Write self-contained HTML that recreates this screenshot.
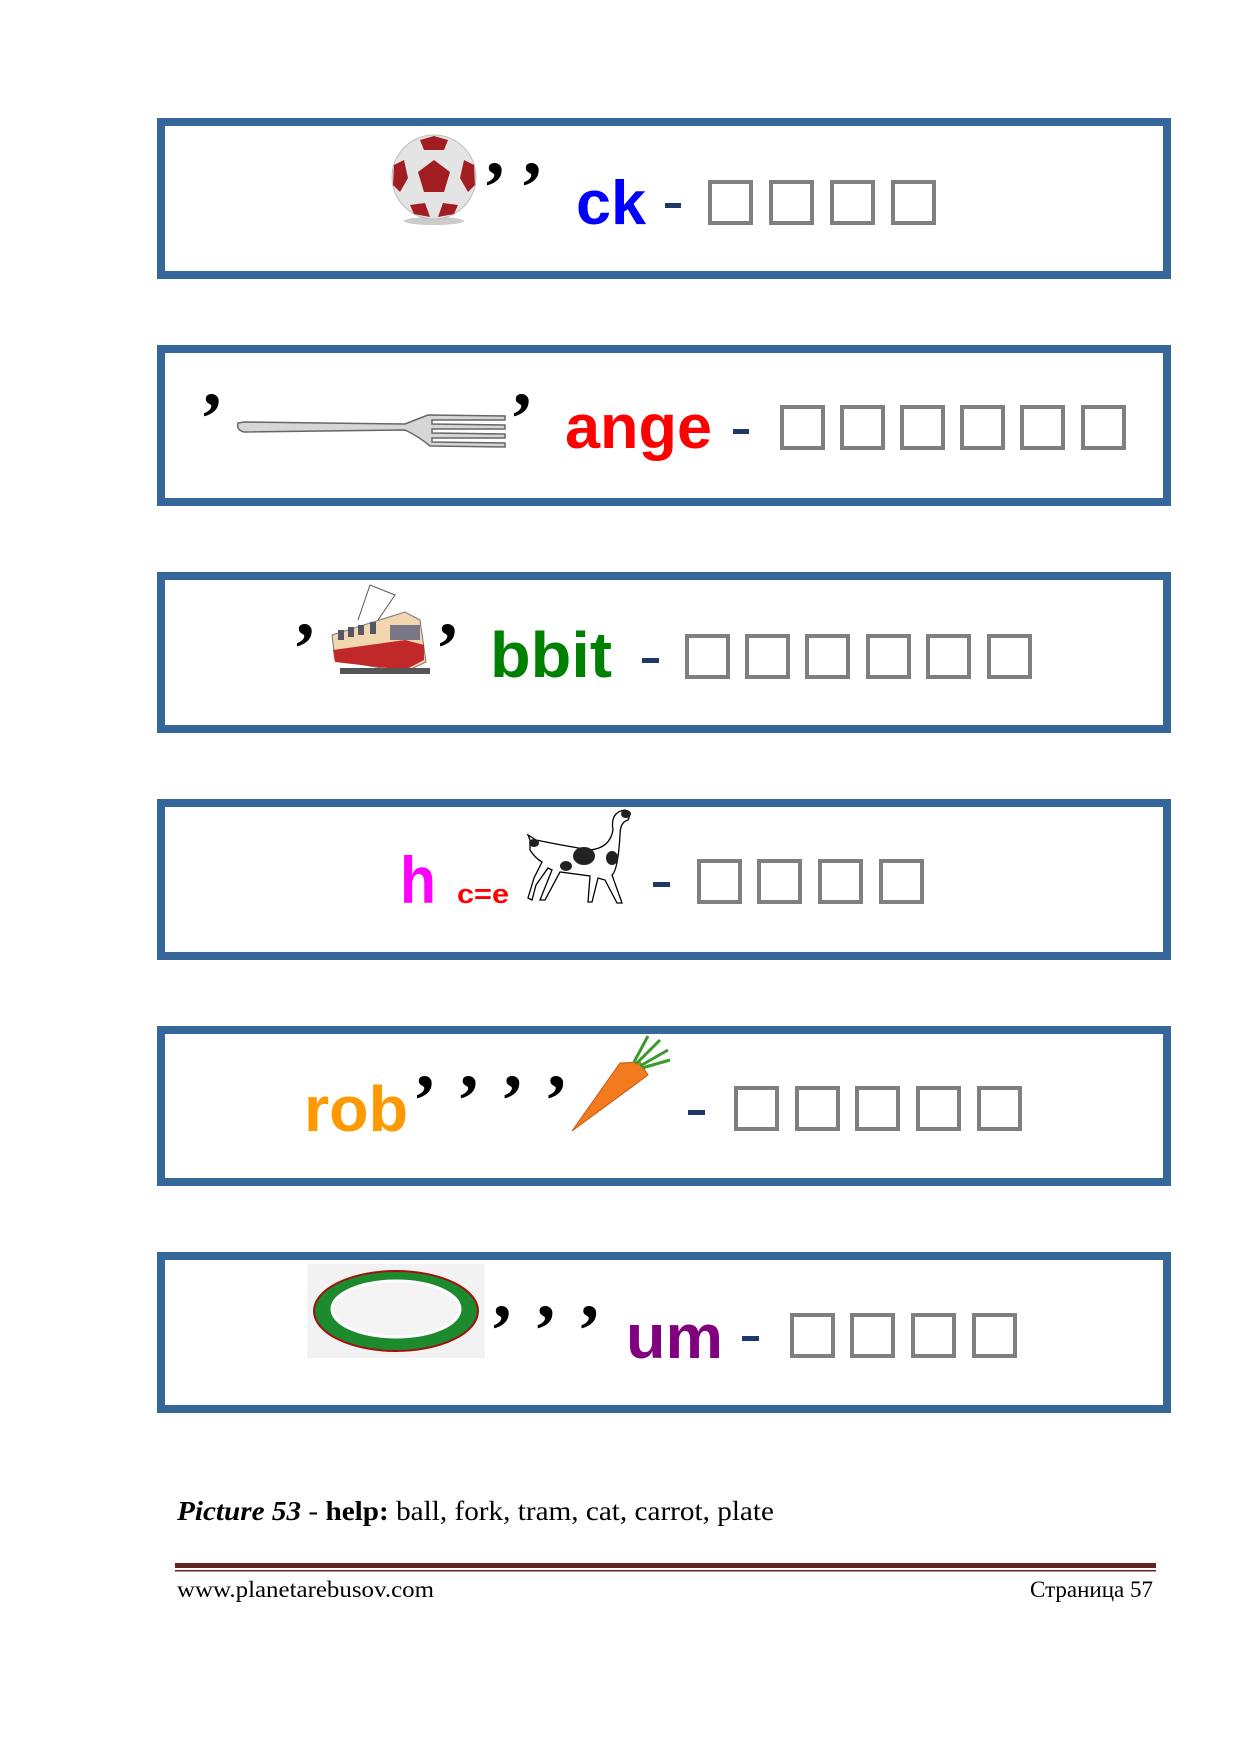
<!DOCTYPE html>
<html><head><meta charset="utf-8"><style>html,body{margin:0;padding:0;background:#fff}svg{display:block}</style></head>
<body>
<svg width="1240" height="1754" viewBox="0 0 1240 1754" xmlns="http://www.w3.org/2000/svg">
<defs>
<g id="sq"><rect x="2" y="2" width="41" height="41" fill="none" stroke="#7f7f7f" stroke-width="4"/></g>
</defs>
<g fill="none" stroke="#36679a" stroke-width="8">
<rect x="161" y="122" width="1006" height="153"/>
<rect x="161" y="349" width="1006" height="153"/>
<rect x="161" y="576" width="1006" height="153"/>
<rect x="161" y="803" width="1006" height="153"/>
<rect x="161" y="1030" width="1006" height="152"/>
<rect x="161" y="1256" width="1006" height="153"/>
</g>
<g font-family="Liberation Sans, sans-serif" font-weight="bold">
<!-- Box1 -->
<ellipse cx="434" cy="221" rx="30" ry="4" fill="#ccc"/>
<circle cx="434" cy="177" r="42" fill="#e4e4e4" stroke="#bbb"/>
<polygon points="434,160 450,172 444,192 424,192 418,172" fill="#a11d22"/>
<polygon points="434,136 448,140 444,150 424,150 420,140" fill="#a11d22"/>
<polygon points="394,165 404,160 408,178 400,192 393,185" fill="#a11d22"/>
<polygon points="474,165 464,160 460,178 468,192 475,185" fill="#a11d22"/>
<polygon points="410,205 425,203 430,217 414,214" fill="#a11d22"/>
<polygon points="458,205 443,203 438,217 454,214" fill="#a11d22"/>
<text x="486" y="174" font-family="Liberation Serif, serif" font-size="74" fill="#000">, ,</text>
<text x="576" y="224" font-size="62" fill="#0000ff" textLength="70" lengthAdjust="spacingAndGlyphs">ck</text>
<rect x="665" y="203" width="16" height="5" fill="#1f3864"/>
<use href="#sq" x="708" y="180"/><use href="#sq" x="769" y="180"/><use href="#sq" x="830" y="180"/><use href="#sq" x="891" y="180"/>
<!-- Box2 -->
<text x="203" y="405" font-family="Liberation Serif, serif" font-size="74" fill="#000">,</text>
<path d="M238,423 Q236,430 244,432 L405,430 Q418,436 430,446 L505,447 L505,443 L432,442 L432,438 L505,438 L505,434 L432,433 L432,429 L505,429 L505,425 L432,424 L432,420 L505,420 L505,416 L428,415 Q415,420 405,424 L244,422 Z" fill="#d6d6d6" stroke="#666" stroke-width="1.5"/>
<text x="513" y="405" font-family="Liberation Serif, serif" font-size="74" fill="#000">,</text>
<text x="565" y="448" font-size="62" fill="#ff0000" textLength="147" lengthAdjust="spacingAndGlyphs">ange</text>
<rect x="733" y="429" width="16" height="5" fill="#1f3864"/>
<use href="#sq" x="780" y="405"/><use href="#sq" x="840" y="405"/><use href="#sq" x="900" y="405"/><use href="#sq" x="960" y="405"/><use href="#sq" x="1020" y="405"/><use href="#sq" x="1081" y="405"/>
<!-- Box3 -->
<text x="296" y="635" font-family="Liberation Serif, serif" font-size="74" fill="#000">,</text>
<path d="M358,620 L370,585 L395,595 L378,620" fill="none" stroke="#555" stroke-width="1"/>
<polygon points="332,635 405,612 420,620 426,662 405,672 335,660" fill="#f2d6b0" stroke="#777"/>
<polygon points="333,650 405,640 424,645 424,660 405,670 335,662" fill="#c0282a"/>
<rect x="390" y="625" width="30" height="15" fill="#778"/>
<g fill="#556"><rect x="338" y="630" width="6" height="10"/><rect x="348" y="627" width="6" height="10"/><rect x="358" y="625" width="6" height="10"/><rect x="370" y="622" width="6" height="12"/></g>
<rect x="340" y="668" width="90" height="6" fill="#555"/>
<text x="439" y="635" font-family="Liberation Serif, serif" font-size="74" fill="#000">,</text>
<text x="490" y="677" font-size="64" fill="#008000" textLength="122" lengthAdjust="spacingAndGlyphs">bbit</text>
<rect x="642" y="658" width="17" height="5" fill="#1f3864"/>
<use href="#sq" x="685" y="634"/><use href="#sq" x="745" y="634"/><use href="#sq" x="805" y="634"/><use href="#sq" x="866" y="634"/><use href="#sq" x="926" y="634"/><use href="#sq" x="987" y="634"/>
<!-- Box4 -->
<text x="400" y="903" font-size="66" fill="#ff00ff" textLength="36" lengthAdjust="spacingAndGlyphs">h</text>
<text x="457" y="903" font-size="27" fill="#ff0000" textLength="52" lengthAdjust="spacingAndGlyphs">c=e</text>
<path d="M530,840 L528,835 L536,840 Q560,845 590,850 Q610,848 613,830 Q610,812 625,810 Q632,812 628,820 Q620,822 620,835 Q618,870 612,875 L622,903 L617,903 L605,880 L598,878 L592,902 L588,902 L590,876 L560,872 L545,900 L540,900 L552,870 L548,868 L536,885 L532,900 L528,898 L534,878 L542,862 Q535,858 530,850 Z" fill="#fff" stroke="#000" stroke-width="1.3"/>
<ellipse cx="584" cy="856" rx="11" ry="9" fill="#222"/><ellipse cx="566" cy="866" rx="6" ry="5" fill="#222"/><ellipse cx="612" cy="858" rx="6" ry="7" fill="#222"/><ellipse cx="534" cy="843" rx="5" ry="4" fill="#222"/><ellipse cx="626" cy="814" rx="5" ry="4" fill="#222"/>
<rect x="653" y="882" width="17" height="5" fill="#1f3864"/>
<use href="#sq" x="697" y="859"/><use href="#sq" x="757" y="859"/><use href="#sq" x="818" y="859"/><use href="#sq" x="879" y="859"/>
<!-- Box5 -->
<text x="304" y="1131" font-size="64" fill="#ff9900" textLength="104" lengthAdjust="spacingAndGlyphs">rob</text>
<text x="416" y="1087" font-family="Liberation Serif, serif" font-size="74" fill="#000" textLength="150">, , , ,</text>
<polygon points="572,1131 620,1063 640,1062 648,1075" fill="#f47a20" stroke="#c55a10" stroke-width="1"/>
<path d="M636,1064 L660,1040 M640,1066 L668,1050 M634,1062 L648,1036 M642,1068 L670,1060" stroke="#3a9a2a" stroke-width="3" fill="none"/>
<rect x="688" y="1110" width="17" height="5" fill="#1f3864"/>
<use href="#sq" x="734" y="1086"/><use href="#sq" x="795" y="1086"/><use href="#sq" x="855" y="1086"/><use href="#sq" x="916" y="1086"/><use href="#sq" x="977" y="1086"/>
<!-- Box6 -->
<rect x="307" y="1264" width="178" height="94" fill="#f2f2f2"/>
<ellipse cx="396" cy="1311" rx="82" ry="40" fill="#1e8a2e" stroke="#a01010" stroke-width="2"/>
<ellipse cx="396" cy="1309" rx="64" ry="28" fill="#f4f4f4" stroke="#fff" stroke-width="3"/>
<text x="493" y="1317" font-family="Liberation Serif, serif" font-size="74" fill="#000" textLength="106">, , ,</text>
<text x="626" y="1358" font-size="62" fill="#800080" textLength="97" lengthAdjust="spacingAndGlyphs">um</text>
<rect x="742" y="1336" width="17" height="5" fill="#1f3864"/>
<use href="#sq" x="790" y="1313"/><use href="#sq" x="850" y="1313"/><use href="#sq" x="911" y="1313"/><use href="#sq" x="972" y="1313"/>
</g>
<text x="177" y="1520" font-family="Liberation Serif, serif" font-size="27" fill="#000" textLength="597" lengthAdjust="spacingAndGlyphs"><tspan font-weight="bold" font-style="italic">Picture 53</tspan> - <tspan font-weight="bold">help:</tspan> ball, fork, tram, cat, carrot, plate</text>
<rect x="175" y="1563" width="981" height="5" fill="#632423"/>
<rect x="175" y="1570" width="981" height="1.5" fill="#632423"/>
<text x="177" y="1597" font-family="Liberation Serif, serif" font-size="23" fill="#000" textLength="257" lengthAdjust="spacingAndGlyphs">www.planetarebusov.com</text>
<text x="1153" y="1597" text-anchor="end" font-family="Liberation Serif, serif" font-size="23" fill="#000">Страница 57</text>
</svg>
</body></html>
